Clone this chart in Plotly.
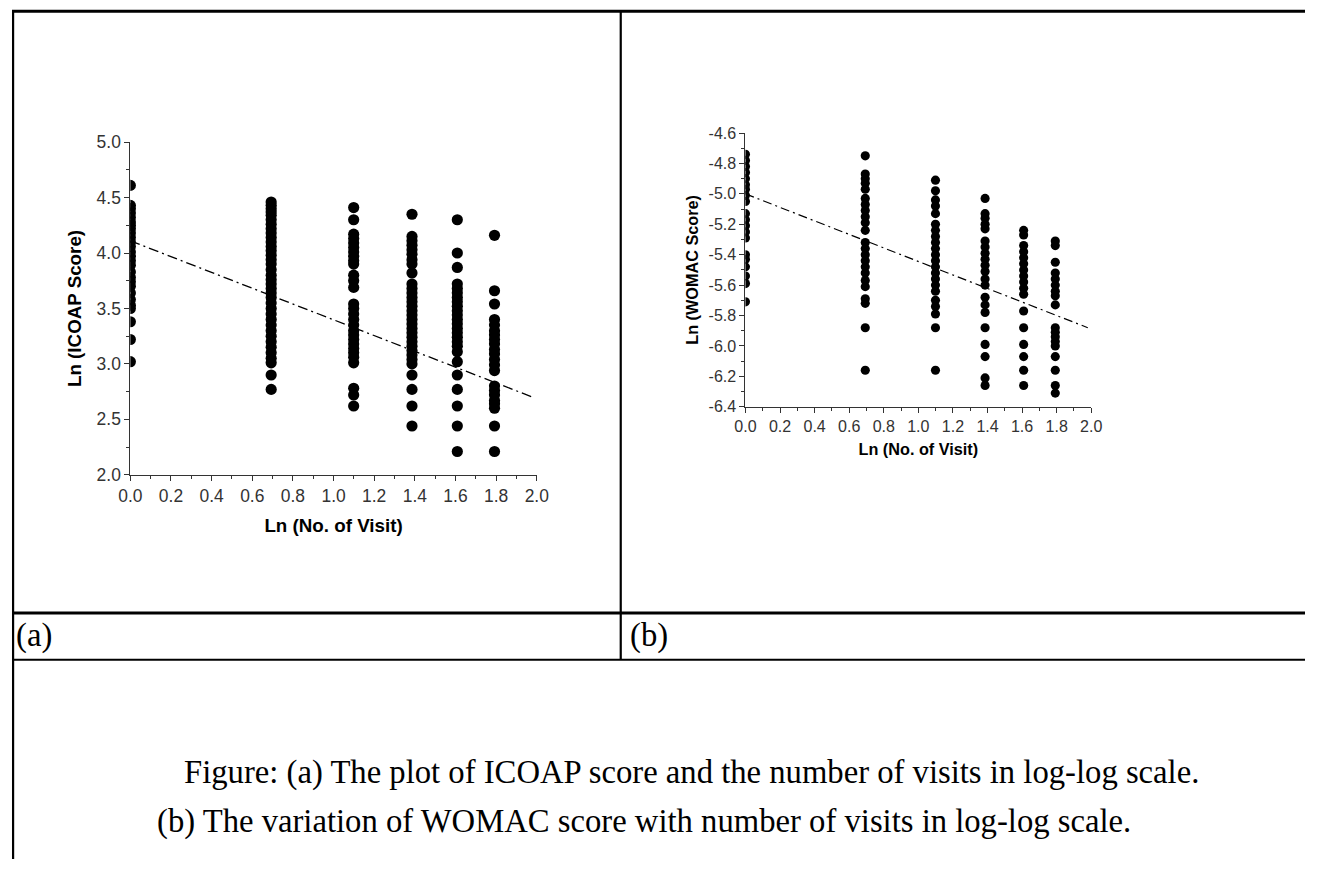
import numpy as np
import plotly.graph_objects as go

W, H = 1317, 869

# ---------------- Data ----------------
visit_x = [0.0, 0.693, 1.099, 1.386, 1.609, 1.792]  # ln(1..6)

icoap_v1 = [4.61, 4.43, 4.40, 4.36, 4.32, 4.28, 4.25, 4.22, 4.18, 4.14, 4.10, 4.06, 4.01,
            3.97, 3.93, 3.89, 3.83, 3.78, 3.74, 3.70, 3.64, 3.58, 3.53, 3.50, 3.38, 3.22, 3.02]
icoap_v2 = [4.46, 4.43, 4.40, 4.37, 4.34, 4.30, 4.26, 4.22, 4.18, 4.14, 4.10, 4.06, 4.02,
            3.98, 3.94, 3.90, 3.85, 3.80, 3.76, 3.72, 3.68, 3.64, 3.60, 3.55, 3.50, 3.45,
            3.40, 3.35, 3.30, 3.25, 3.20, 3.15, 3.10, 3.05, 3.01, 2.90, 2.77]
icoap_v3 = [4.41, 4.30, 4.17, 4.13, 4.09, 4.05, 4.01, 3.97, 3.93, 3.90, 3.80, 3.75, 3.69,
            3.54, 3.50, 3.45, 3.40, 3.35, 3.30, 3.26, 3.22, 3.18, 3.14, 3.10, 3.06, 3.01,
            2.78, 2.72, 2.62]
icoap_v4 = [4.35, 4.15, 4.11, 4.07, 4.03, 3.99, 3.94, 3.90, 3.82, 3.72, 3.68, 3.64, 3.60,
            3.56, 3.52, 3.48, 3.44, 3.40, 3.36, 3.32, 3.28, 3.24, 3.20, 3.16, 3.12, 3.08,
            3.04, 3.00, 2.90, 2.77, 2.62, 2.44]
icoap_v5 = [4.30, 4.00, 3.87, 3.72, 3.68, 3.64, 3.60, 3.56, 3.52, 3.48, 3.44, 3.40, 3.36,
            3.32, 3.28, 3.24, 3.20, 3.16, 3.11, 3.02, 2.90, 2.77, 2.62, 2.44, 2.21]
icoap_v6 = [4.16, 3.66, 3.54, 3.40, 3.35, 3.30, 3.26, 3.22, 3.18, 3.13, 3.09, 3.04, 2.99,
            2.94, 2.80, 2.76, 2.72, 2.67, 2.64, 2.60, 2.44, 2.21]
icoap_fit_x = [0.0, 1.98]
icoap_fit_y = [4.11, 2.70]

womac_v1 = [-4.74, -4.78, -4.82, -4.86, -4.90, -4.94, -4.97, -5.01, -5.05, -5.13, -5.17,
            -5.21, -5.25, -5.29, -5.40, -5.43, -5.48, -5.54, -5.59, -5.71]
womac_v2 = [-4.75, -4.87, -4.90, -4.93, -4.97, -5.03, -5.07, -5.11, -5.15, -5.19, -5.24,
            -5.32, -5.36, -5.40, -5.44, -5.48, -5.52, -5.57, -5.61, -5.69, -5.72, -5.88, -6.16]
womac_v3 = [-4.91, -4.98, -5.04, -5.08, -5.13, -5.20, -5.24, -5.28, -5.32, -5.36, -5.40,
            -5.44, -5.48, -5.52, -5.56, -5.60, -5.64, -5.70, -5.74, -5.79, -5.88, -6.16]
womac_v4 = [-5.03, -5.13, -5.16, -5.20, -5.23, -5.31, -5.35, -5.39, -5.43, -5.47, -5.51,
            -5.56, -5.60, -5.68, -5.73, -5.78, -5.88, -5.99, -6.07, -6.21, -6.26]
womac_v5 = [-5.24, -5.27, -5.34, -5.38, -5.42, -5.46, -5.50, -5.54, -5.58, -5.62, -5.66,
            -5.77, -5.88, -5.99, -6.07, -6.16, -6.26]
womac_v6 = [-5.31, -5.34, -5.45, -5.52, -5.56, -5.60, -5.64, -5.67, -5.73, -5.88, -5.91,
            -5.94, -5.97, -6.00, -6.07, -6.16, -6.26, -6.31]
womac_fit_x = [0.0, 1.98]
womac_fit_y = [-5.00, -5.88]

x_tickvals = [0.0, 0.2, 0.4, 0.6, 0.8, 1.0, 1.2, 1.4, 1.6, 1.8, 2.0]
x_ticktext = ["0.0", "0.2", "0.4", "0.6", "0.8", "1.0", "1.2", "1.4", "1.6", "1.8", "2.0"]
ya_tickvals = [2.0, 2.5, 3.0, 3.5, 4.0, 4.5, 5.0]
ya_ticktext = ["2.0", "2.5", "3.0", "3.5", "4.0", "4.5", "5.0"]
yb_tickvals = [-6.4, -6.2, -6.0, -5.8, -5.6, -5.4, -5.2, -5.0, -4.8, -4.6]
yb_ticktext = ["-6.4", "-6.2", "-6.0", "-5.8", "-5.6", "-5.4", "-5.2", "-5.0", "-4.8", "-4.6"]

xlabel = "Ln (No. of Visit)"
ylabel_a = "Ln (ICOAP Score)"
ylabel_b = "Ln (WOMAC Score)"
panel_labels = ["(a)", "(b)"]
caption1 = "Figure: (a) The plot of ICOAP score and the number of visits in log-log scale."
caption2 = "(b) The variation of WOMAC score with number of visits in log-log scale."

# ---------------- layout helpers ----------------
# The page is shown with the browser's 8px body margin and then fitted back into the
# window, so target screen pixels are mapped back to figure pixels here.
SX, SY, OFF = 0.988, 0.982, 8
K = (SX + SY) / 2  # size compensation for fonts / markers


def fx(px):
    return (px / SX - OFF) / W


def fy(py):
    return 1 - (py / SY - OFF) / H


def fs(size):
    return round(size / K, 2)


icoap_cols = [icoap_v1, icoap_v2, icoap_v3, icoap_v4, icoap_v5, icoap_v6]
womac_cols = [womac_v1, womac_v2, womac_v3, womac_v4, womac_v5, womac_v6]

ax_ic_x, ax_ic_y = [], []
for xv, col in zip(visit_x, icoap_cols):
    ax_ic_x += [xv] * len(col)
    ax_ic_y += col
ax_wo_x, ax_wo_y = [], []
for xv, col in zip(visit_x, womac_cols):
    ax_wo_x += [xv] * len(col)
    ax_wo_y += col

fig = go.Figure()
fig.add_trace(go.Scatter(x=ax_ic_x, y=ax_ic_y, mode="markers", xaxis="x", yaxis="y",
                         marker=dict(color="black", size=fs(11)), showlegend=False))
fig.add_trace(go.Scatter(x=icoap_fit_x, y=icoap_fit_y, mode="lines", xaxis="x", yaxis="y",
                         line=dict(color="black", width=1.3, dash="10px,4px,2px,4px"),
                         showlegend=False))
fig.add_trace(go.Scatter(x=ax_wo_x, y=ax_wo_y, mode="markers", xaxis="x2", yaxis="y2",
                         marker=dict(color="black", size=fs(9)), showlegend=False))
fig.add_trace(go.Scatter(x=womac_fit_x, y=womac_fit_y, mode="lines", xaxis="x2", yaxis="y2",
                         line=dict(color="black", width=1.2, dash="9px,4px,2px,4px"),
                         showlegend=False))

axis_common = dict(showgrid=False, zeroline=False, showline=True, linecolor="#333",
                   linewidth=1, ticks="outside", ticklen=5, tickcolor="#333",
                   tickmode="array")

tickfont_a = dict(family="Liberation Sans, Arial", size=fs(17.2), color="#333")
tickfont_b = dict(family="Liberation Sans, Arial", size=fs(15.8), color="#333")
titlefont_a = dict(family="Liberation Sans, Arial", size=fs(18.5), color="black", weight="bold")
titlefont_b = dict(family="Liberation Sans, Arial", size=fs(16), color="black", weight="bold")

fig.update_layout(
    width=W, height=H,
    margin=dict(l=0, r=0, t=0, b=0),
    paper_bgcolor="white", plot_bgcolor="white",
    xaxis=dict(**axis_common, domain=[fx(127), fx(536)], range=[0, 2],
               tickvals=x_tickvals, ticktext=x_ticktext,
               anchor="y", tickfont=tickfont_a,
               minor=dict(ticks="outside", ticklen=3, dtick=0.1, tick0=0, tickcolor="#333"),
               title=dict(text=xlabel, font=titlefont_a, standoff=14)),
    yaxis=dict(**axis_common, domain=[fy(475), fy(140.7)], range=[2, 5],
               tickvals=ya_tickvals, ticktext=ya_ticktext,
               anchor="x", tickfont=tickfont_a,
               minor=dict(ticks="outside", ticklen=3, dtick=0.25, tick0=0, tickcolor="#333"),
               title=dict(text=ylabel_a, font=titlefont_a, standoff=10)),
    xaxis2=dict(**axis_common, domain=[fx(746), fx(1094)], range=[0, 2],
                tickvals=x_tickvals, ticktext=x_ticktext,
                anchor="y2", tickfont=tickfont_b,
                minor=dict(ticks="outside", ticklen=3, dtick=0.1, tick0=0, tickcolor="#333"),
                title=dict(text=xlabel, font=titlefont_b, standoff=9)),
    yaxis2=dict(**axis_common, domain=[fy(406.7), fy(131.5)], range=[-6.4, -4.6],
                tickvals=yb_tickvals, ticktext=yb_ticktext,
                anchor="x2", tickfont=tickfont_b,
                minor=dict(ticks="outside", ticklen=3, dtick=0.1, tick0=0, tickcolor="#333"),
                title=dict(text=ylabel_b, font=titlefont_b, standoff=5)),
)

# table lines (target screen pixels; edges clamped to the drawable area)
lines = [
    (0, 9, 1317, 9, 3),
    (9, 0, 9, 869, 2.2),
    (620.5, 7, 620.5, 661, 2.2),
    (0, 614, 1317, 614, 3),
    (0, 661, 1317, 661, 2),
]
for x0, y0, x1, y1, wd in lines:
    fig.add_shape(type="line", xref="paper", yref="paper",
                  x0=max(fx(x0), 0), y0=min(fy(y0), 1), x1=min(fx(x1), 1), y1=max(fy(y1), 0),
                  line=dict(color="black", width=wd))

serif = dict(family="Liberation Serif, Times New Roman", size=fs(32.2), color="black")
fig.add_annotation(x=fx(10), y=fy(637), xref="paper", yref="paper", text=panel_labels[0],
                   showarrow=False, xanchor="left", yanchor="middle", font=serif)
fig.add_annotation(x=fx(628), y=fy(637), xref="paper", yref="paper", text=panel_labels[1],
                   showarrow=False, xanchor="left", yanchor="middle", font=serif)
fig.add_annotation(x=fx(179), y=fy(774), xref="paper", yref="paper", text=caption1,
                   showarrow=False, xanchor="left", yanchor="middle", font=serif)
fig.add_annotation(x=fx(152), y=fy(824), xref="paper", yref="paper", text=caption2,
                   showarrow=False, xanchor="left", yanchor="middle", font=serif)

fig.write_html("out.html")
